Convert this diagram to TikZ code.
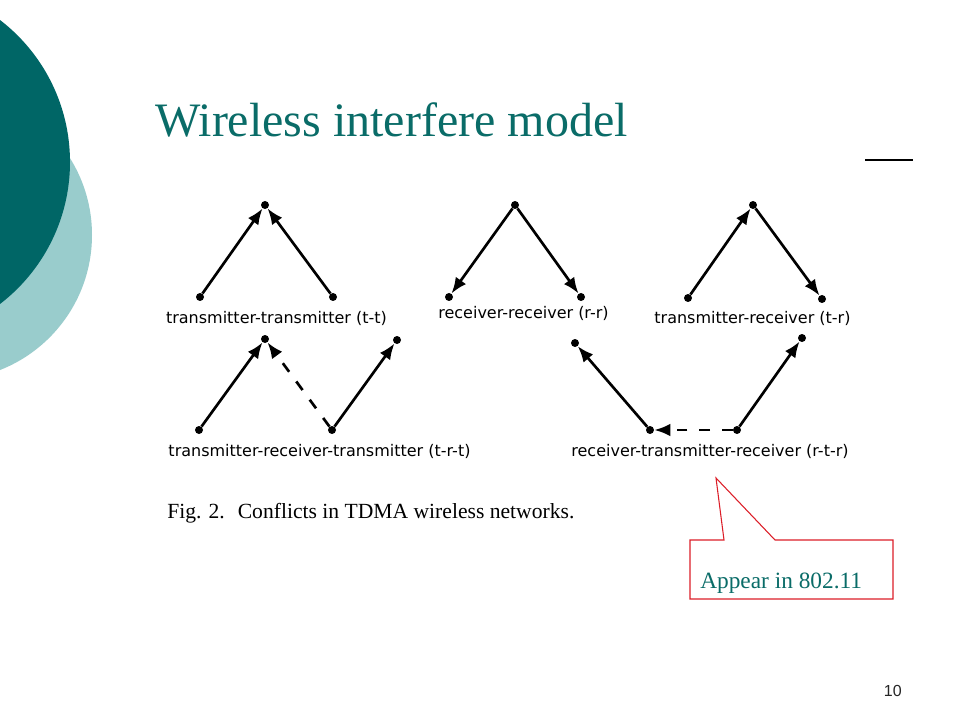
\documentclass[tikz,border=0pt]{standalone}
\usepackage{fontspec}
\setmainfont{Liberation Serif}
\newfontfamily\figfont{DejaVu Sans}
\newfontfamily\numfont{Liberation Sans}
\usepackage{xcolor}
\usepackage{tikz}
\usetikzlibrary{arrows.meta}
\usetikzlibrary{positioning}
\definecolor{SlideTeal}{RGB}{0,102,102}
\definecolor{TitleTeal}{RGB}{10,108,104}
\definecolor{PaleTeal}{RGB}{153,204,204}
\definecolor{CalloutRed}{RGB}{220,30,40}

\begin{document}
\begin{tikzpicture}[
		x=0.75pt,y=-0.75pt,
		MyDots/.style={circle,fill=black,inner sep=0pt,minimum size=6pt},
		MyArrows/.style={-{Latex[length=12pt, width=9.5pt]},line width=2pt},
		MyDashed/.style={MyArrows,dash pattern=on 8pt off 9pt},
		Labels/.style={anchor=base,inner sep=0pt,font=\figfont\fontsize{12}{14}\selectfont}
		]
		\clip (0,0) rectangle (960,720);
		\fill[white] (0,0) rectangle (960,720);
		
		% slide decoration
		\fill[PaleTeal] (-53,235) circle[radius=108.75pt];
		\fill[SlideTeal] (-109,162) circle[radius=134.25pt];
		
		\node[anchor=base west,inner sep=0pt,TitleTeal,font=\fontsize{36}{40}\selectfont] (title) at (155,137) {Wireless interfere model};
		\draw[black,line width=0.8pt] (865,160)--(913,160);
		
		% transmitter-transmitter
		\node[MyDots] (TTtop) at (265,205) {};
		\node[MyDots] (TTleft) at (200,297) {};
		\node[MyDots] (TTright) at (333,297) {};
		\draw[MyArrows] (TTleft)--(TTtop);
		\draw[MyArrows] (TTright)--(TTtop);
		\node[Labels] (TTlabel) at (276.5,324) {transmitter-transmitter (t-t)};
		
		% receiver-receiver
		\node[MyDots] (RRtop) at (515,205) {};
		\node[MyDots] (RRleft) at (449,297) {};
		\node[MyDots] (RRright) at (581,297) {};
		\draw[MyArrows] (RRtop)--(RRleft);
		\draw[MyArrows] (RRtop)--(RRright);
		\node[Labels] (RRlabel) at (523.5,318) {receiver-receiver (r-r)};
		
		% transmitter-receiver
		\node[MyDots] (TRtop) at (753,205) {};
		\node[MyDots] (TRleft) at (688,298) {};
		\node[MyDots] (TRright) at (822,299) {};
		\draw[MyArrows] (TRleft)--(TRtop);
		\draw[MyArrows] (TRtop)--(TRright);
		\node[Labels] (TRlabel) at (752.5,324) {transmitter-receiver (t-r)};
		
		% transmitter-receiver-transmitter
		\node[MyDots] (TRTa) at (199,430) {};
		\node[MyDots] (TRTb) at (265,339) {};
		\node[MyDots] (TRTc) at (332,430) {};
		\node[MyDots] (TRTd) at (397,340) {};
		\draw[MyArrows] (TRTa)--(TRTb);
		\draw[MyDashed] (TRTc)--(TRTb);
		\draw[MyArrows] (TRTc)--(TRTd);
		\node[Labels] (TRTlabel) at (319.5,456) {transmitter-receiver-transmitter (t-r-t)};
		
		% receiver-transmitter-receiver
		\node[MyDots] (RTRa) at (575,343) {};
		\node[MyDots] (RTRb) at (650,430) {};
		\node[MyDots] (RTRc) at (737,430) {};
		\node[MyDots] (RTRd) at (802,338) {};
		\draw[MyArrows] (RTRb)--(RTRa);
		\draw[MyDashed] (RTRc)--(RTRb);
		\draw[MyArrows] (RTRc)--(RTRd);
		\node[Labels] (RTRlabel) at (710,456) {receiver-transmitter-receiver (r-t-r)};
		
		\node[anchor=base west,inner sep=0pt,font=\fontsize{16.2}{18}\selectfont] (caption) at (167,518) {Fig. 2.\hspace{0.6em}Conflicts in TDMA wireless networks.};
		
		% callout
		\draw[CalloutRed,fill=white,line width=0.8pt] (690,540)--(724,540)--(716,478)--(775,540)--(893,540)--(893,599)--(690,599)--cycle;
		\node[anchor=base west,inner sep=0pt,TitleTeal,font=\fontsize{17.5}{20}\selectfont] (appear) at (700,588) {Appear in 802.11};
		
		\node[anchor=base east,inner sep=0pt,black!85,font=\numfont\fontsize{12}{14}\selectfont] (pagenum) at (902,696) {10};
		
\end{tikzpicture}
\end{document}
